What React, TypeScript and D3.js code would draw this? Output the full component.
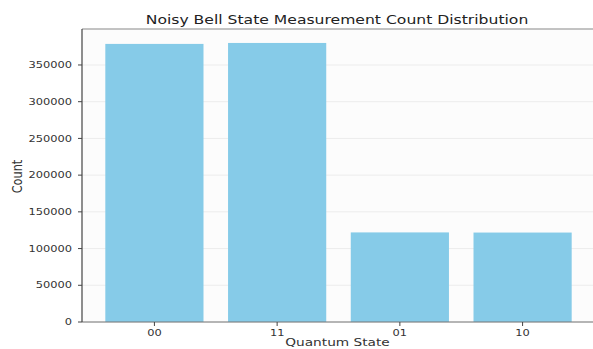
import React from 'react';
import * as d3 from 'd3';

// Measurement outcomes and their counts
const states = ['00', '11', '01', '10'];
const counts = [378700, 380000, 122000, 121800];
const yTicks = [0, 50000, 100000, 150000, 200000, 250000, 300000, 350000];

// the source picture is stretched sideways, text follows that
const SX = 1.27;

const App = () => {
  const width = 593;
  const height = 349;
  const margin = { top: 29, right: -2, bottom: 27, left: 82 };
  const innerW = width - margin.left - margin.right;
  const innerH = height - margin.top - margin.bottom;

  // matplotlib-like band: width 0.8, xlim padded by 5%
  const x = d3.scaleLinear().domain([-0.59, 3.59]).range([0, innerW]);
  const y = d3.scaleLinear().domain([0, 399000]).range([innerH, 0]);
  const barW = x(0.8) - x(0);

  const font = 'DejaVu Sans, sans-serif';
  const textColor = '#333';
  const st = (tx: number, ty: number) => `translate(${tx},${ty}) scale(${SX},1)`;

  return (
    <svg width={width} height={height} style={{ position: 'absolute', left: 0, top: 0, background: '#fff' }}>
      <text transform={st(337, 24)} textAnchor="middle" fontFamily={font} fontSize={12.3} fill="#222">
        Noisy Bell State Measurement Count Distribution
      </text>
      <g transform={`translate(${margin.left},${margin.top})`}>
        <rect x={0} y={0} width={innerW} height={innerH} fill="#fcfcfc" />
        {/* grid */}
        {yTicks.map(t => (
          <line key={'g' + t} x1={0} x2={innerW} y1={y(t)} y2={y(t)} stroke="#ececec" strokeWidth={1} />
        ))}
        {/* bars */}
        {states.map((s, i) => (
          <rect key={s} x={x(i) - barW / 2} y={y(counts[i])} width={barW}
            height={innerH - y(counts[i])} fill="#86cbe8" />
        ))}
        {/* spines */}
        <line x1={0} x2={innerW} y1={0} y2={0} stroke="#888" strokeWidth={1.2} />
        <line x1={0} x2={innerW} y1={innerH} y2={innerH} stroke="#777" strokeWidth={1.2} />
        <line x1={0} x2={0} y1={0} y2={innerH} stroke="#444" strokeWidth={1.2} />
        {/* y ticks */}
        {yTicks.map(t => (
          <g key={'t' + t} transform={`translate(0,${y(t)})`}>
            <line x1={-4} x2={0} stroke="#444" strokeWidth={1} />
            <text transform={st(-10, 0)} dy="0.35em" textAnchor="end" fontFamily={font} fontSize={9} fill={textColor}>
              {t}
            </text>
          </g>
        ))}
        {/* x ticks */}
        {states.map((s, i) => (
          <g key={'x' + s} transform={`translate(${x(i)},${innerH})`}>
            <line y1={0} y2={4} stroke="#444" strokeWidth={1} />
            <text transform={st(0, 13.5)} textAnchor="middle" fontFamily={font} fontSize={9} fill={textColor}>
              {s}
            </text>
          </g>
        ))}
        <text transform={st(innerW / 2 - 1, innerH + 24)} textAnchor="middle" fontFamily={font} fontSize={10.8} fill={textColor}>
          Quantum State
        </text>
      </g>
      <text transform={`translate(22,${margin.top + innerH / 2 + 1}) scale(${SX},1) rotate(-90)`} textAnchor="middle"
        fontFamily={font} fontSize={11.3} fill={textColor}>
        Count
      </text>
    </svg>
  );
};

export default App;
